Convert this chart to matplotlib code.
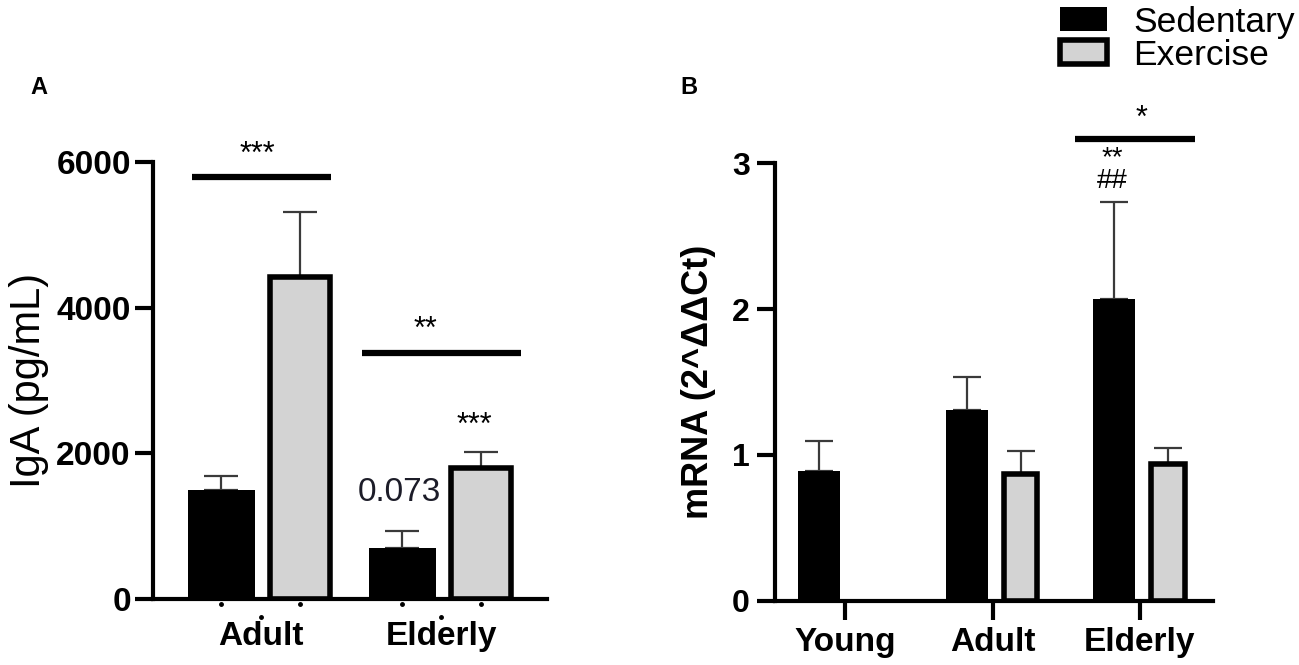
import numpy as np
import matplotlib
matplotlib.use('Agg')
import matplotlib.pyplot as plt
import matplotlib.transforms as mtransforms

plt.rcParams['font.family'] = ['Liberation Sans', 'DejaVu Sans']

# Panel A - IgA
groups_a = ['Adult', 'Elderly']
iga_sed = [1500, 700]
iga_sed_err = [195, 230]
iga_ex = [4420, 1800]
iga_ex_err = [900, 220]

# Panel B - mRNA
groups_b = ['Young', 'Adult', 'Elderly']
mrna_sed = [0.89, 1.31, 2.07]
mrna_sed_err = [0.205, 0.225, 0.665]
mrna_ex = [np.nan, 0.87, 0.935]
mrna_ex_err = [0, 0.155, 0.11]

GREY = '#d3d3d3'
ERR = '#3a3a3a'

fig = plt.figure(figsize=(12.99, 6.65), dpi=100)

# -------------------- Panel A --------------------
ax1 = fig.add_axes([153/1299, 66/665, 394/1299, 437/665])
xa = np.arange(len(groups_a))
b_sed = ax1.bar(xa - 0.217, iga_sed, width=0.37, color='black', edgecolor='black',
                linewidth=0, zorder=2, label='Sedentary')
b_ex = ax1.bar(xa + 0.217, iga_ex, width=0.33, color=GREY, edgecolor='black',
               linewidth=4, zorder=2, label='Exercise')
ax1.errorbar(xa - 0.217, iga_sed, yerr=[np.zeros(2), iga_sed_err], fmt='none',
             ecolor=ERR, elinewidth=1.6, capsize=12, capthick=1.6, zorder=1)
ax1.errorbar(xa + 0.217, iga_ex, yerr=[np.zeros(2), iga_ex_err], fmt='none',
             ecolor=ERR, elinewidth=1.6, capsize=12, capthick=1.6, zorder=1)

ax1.set_xlim(-0.594, 1.583)
ax1.set_ylim(0, 6000)
ax1.set_yticks([0, 2000, 4000, 6000])
ax1.set_xticks(xa)
ax1.set_xticklabels(groups_a, fontsize=24, fontweight='bold')
for t in ax1.get_yticklabels():
    t.set_fontsize(24)
    t.set_fontweight('bold')
ax1.tick_params(axis='y', length=13, width=3, pad=3)
ax1.tick_params(axis='x', length=0, pad=16)
ax1.set_ylabel('IgA (pg/mL)', fontsize=30)
ax1.yaxis.set_label_coords(-0.265, 0.5)
for s in ['top', 'right']:
    ax1.spines[s].set_visible(False)
for s in ['left', 'bottom']:
    ax1.spines[s].set_linewidth(3)

# small dots under the axis
trans1 = mtransforms.blended_transform_factory(ax1.transData, ax1.transAxes)
ax1.plot(np.concatenate([xa - 0.217, xa + 0.217]), np.full(4, -0.012), 'o',
         color='black', ms=2.5, transform=trans1, clip_on=False)
ax1.plot(xa, np.full(2, -0.042), 'o', color='black', ms=2.5,
         transform=trans1, clip_on=False)

# significance
ax1.plot([-0.378, 0.39], [5790, 5790], color='black', lw=4.5, solid_capstyle='butt',
         clip_on=False)
ax1.text(-0.02, 6100, '***', ha='center', va='center', fontsize=22)
ax1.plot([0.56, 1.44], [3380, 3380], color='black', lw=4.5, solid_capstyle='butt')
ax1.text(0.91, 3690, '**', ha='center', va='center', fontsize=22)
ax1.text(1.18, 2370, '***', ha='center', va='center', fontsize=22)
ax1.text(0.765, 1456, '0.073', ha='center', va='center', fontsize=24, color='#1c1c28')

fig.text(30/1299, 1 - 88/665, 'A', fontsize=17, fontweight='bold', va='center')

# -------------------- Panel B --------------------
ax2 = fig.add_axes([775/1299, 64/665, 438/1299, 438/665])
xb = np.arange(len(groups_b))
ax2.bar(xb - 0.175, mrna_sed, width=0.285, color='black', linewidth=0, zorder=2)
ax2.bar(xb + 0.19, mrna_ex, width=0.225, color=GREY, edgecolor='black',
        linewidth=4, zorder=2)
ax2.errorbar(xb - 0.175, mrna_sed, yerr=[np.zeros(3), mrna_sed_err], fmt='none',
             ecolor=ERR, elinewidth=1.6, capsize=10, capthick=1.6, zorder=1)
ax2.errorbar(xb[1:] + 0.19, mrna_ex[1:], yerr=[np.zeros(2), mrna_ex_err[1:]], fmt='none',
             ecolor=ERR, elinewidth=1.6, capsize=10, capthick=1.6, zorder=1)

ax2.set_xlim(-0.475, 2.495)
ax2.set_ylim(0, 3)
ax2.set_yticks([0, 1, 2, 3])
ax2.set_xticks(xb)
ax2.set_xticklabels(groups_b, fontsize=24, fontweight='bold')
for t in ax2.get_yticklabels():
    t.set_fontsize(23)
    t.set_fontweight('bold')
ax2.tick_params(axis='y', length=13, width=3, pad=5)
ax2.tick_params(axis='x', length=14, width=3, pad=5)
ax2.set_ylabel('mRNA (2^ΔΔCt)', fontsize=26, fontweight='bold')
ax2.yaxis.set_label_coords(-0.135, 0.5)
for s in ['top', 'right']:
    ax2.spines[s].set_visible(False)
for s in ['left', 'bottom']:
    ax2.spines[s].set_linewidth(3)

ax2.plot([1.56, 2.373], [3.164, 3.164], color='black', lw=4.5, solid_capstyle='butt',
         clip_on=False)
ax2.text(2.01, 3.30, '*', ha='center', va='center', fontsize=22, clip_on=False)
ax2.text(1.815, 2.955, '**\n##', ha='center', va='center', fontsize=20,
         linespacing=0.85, clip_on=False)

fig.text(680/1299, 1 - 88/665, 'B', fontsize=17, fontweight='bold', va='center')

# legend
fig.legend([b_sed, b_ex], ['Sedentary', 'Exercise'], loc='upper left',
           bbox_to_anchor=(1056/1299, 1 - 2/665), frameon=False, fontsize=25.5,
           handlelength=1.33, handleheight=0.65, handletextpad=0.75,
           labelspacing=0.0, borderpad=0.1, borderaxespad=0)

fig.savefig('out.png', dpi=100)
